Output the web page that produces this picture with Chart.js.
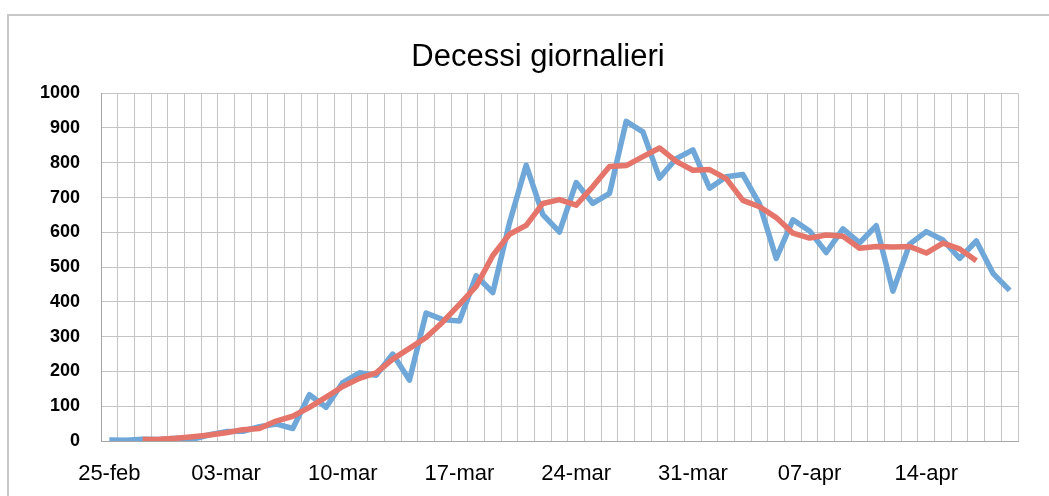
<!DOCTYPE html>
<html lang="it">
<head>
<meta charset="utf-8">
<title>Decessi giornalieri</title>
<script src="https://cdn.jsdelivr.net/npm/chart.js@4"></script>
<style>
    html, body { margin: 0; padding: 0; background: #fff; overflow: hidden; }
    #cornice {
        position: absolute; left: 7px; top: 14px;
        width: 1100px; height: 600px;
        border: 2px solid #c9c9c9; box-sizing: border-box;
    }
    #contenitore { position: absolute; left: 0; top: 0; width: 1076px; height: 496px; }
</style>
</head>
<body>
<div id="cornice"></div>
<div id="contenitore"><canvas id="grafico" width="1076" height="496"></canvas></div>
<script>
// --- DATI ---

// giorni dal 25-feb al 19-apr
const giorni = [
    '25-feb', '26-feb', '27-feb', '28-feb', '29-feb',
    '01-mar', '02-mar', '03-mar', '04-mar', '05-mar', '06-mar', '07-mar', '08-mar', '09-mar', '10-mar',
    '11-mar', '12-mar', '13-mar', '14-mar', '15-mar', '16-mar', '17-mar', '18-mar', '19-mar', '20-mar',
    '21-mar', '22-mar', '23-mar', '24-mar', '25-mar', '26-mar', '27-mar', '28-mar', '29-mar', '30-mar', '31-mar',
    '01-apr', '02-apr', '03-apr', '04-apr', '05-apr', '06-apr', '07-apr', '08-apr', '09-apr', '10-apr',
    '11-apr', '12-apr', '13-apr', '14-apr', '15-apr', '16-apr', '17-apr', '18-apr', '19-apr'
];

// decessi giornalieri (linea blu)
const decessi = [
    3, 2, 5, 4, 8,
    5, 18, 27, 28, 41, 49, 36, 133, 97, 168,
    196, 189, 250, 175, 368, 349, 345, 475, 427, 627,
    793, 651, 601, 743, 683, 712, 919, 889, 756, 812, 837,
    727, 760, 766, 681, 525, 636, 604, 542, 610, 570,
    619, 431, 566, 602, 578, 525, 575, 482, 433
];

// media mobile (linea rossa), nulla dove manca
const mediaMobile = [
    null, null, 4.4, 4.8, 8.0,
    12.4, 17.2, 23.8, 32.6, 36.2, 57.4, 71.2, 96.6, 126.0, 156.6,
    180.0, 195.6, 235.6, 266.2, 297.4, 342.4, 392.8, 444.6, 533.4, 594.6,
    619.8, 683.0, 694.2, 678.0, 731.6, 789.2, 791.8, 817.6, 842.6, 804.2, 778.4,
    780.4, 754.2, 691.8, 673.6, 642.4, 597.6, 583.4, 592.4, 589.0, 554.4,
    559.2, 557.6, 559.2, 540.4, 569.2, 552.4, 518.6, null, null
];

// etichette mostrate sull'asse x (una ogni 7 giorni)
const etichetteX = ['25-feb', '03-mar', '10-mar', '17-mar', '24-mar', '31-mar', '07-apr', '14-apr'];

// tacche asse y
const yMin = 0;
const yMax = 1000;
const yPasso = 100;

const FONT = "'Liberation Sans', Arial, sans-serif";
const COLORE_GRIGLIA = '#c4c4c4';

new Chart(document.getElementById('grafico'), {
    type: 'line',
    data: {
        labels: giorni,
        datasets: [
            {
                label: 'Media mobile',
                data: mediaMobile,
                borderColor: '#e5756a',
                borderWidth: 5.5,
                pointRadius: 0,
                tension: 0,
                borderJoinStyle: 'round',
                order: 0
            },
            {
                label: 'Decessi',
                data: decessi,
                borderColor: '#6fa7d8',
                borderWidth: 5.5,
                pointRadius: 0,
                tension: 0,
                borderJoinStyle: 'round',
                order: 1
            }
        ]
    },
    options: {
        responsive: false,
        animation: false,
        layout: { padding: { top: 14, left: 0, right: 0, bottom: 0 } },
        plugins: {
            legend: { display: false },
            tooltip: { enabled: false },
            title: {
                display: true,
                text: 'Decessi giornalieri',
                color: '#000',
                font: { family: FONT, size: 31, weight: 'normal' },
                padding: { top: 25, bottom: 17 }
            }
        },
        scales: {
            x: {
                offset: true,
                grid: { offset: true, color: COLORE_GRIGLIA, lineWidth: 1, drawTicks: false },
                border: { color: '#a6a6a6', width: 1 },
                ticks: {
                    autoSkip: false,
                    maxRotation: 0,
                    padding: 20,
                    color: '#000',
                    font: { family: FONT, size: 22 },
                    callback: function (valore) {
                        const nome = giorni[valore];
                        return etichetteX.includes(nome) ? nome : '';
                    }
                },
                afterFit: function (scala) { scala.height = 55; }
            },
            y: {
                min: yMin,
                max: yMax,
                grid: { color: COLORE_GRIGLIA, lineWidth: 1, drawTicks: false },
                border: { color: '#a6a6a6', width: 1 },
                ticks: {
                    stepSize: yPasso,
                    padding: 21,
                    color: '#000',
                    font: { family: FONT, size: 18, weight: 'bold' },
                    callback: function (valore) { return String(valore); }
                },
                afterFit: function (scala) { scala.width = 101; }
            },
            // spazio vuoto a destra dell'area del grafico
            margineDestro: {
                type: 'linear',
                position: 'right',
                grid: { display: false, drawTicks: false },
                border: { display: false },
                ticks: { display: false },
                afterFit: function (scala) { scala.width = 58; }
            }
        }
    }
});
</script>
</body>
</html>
